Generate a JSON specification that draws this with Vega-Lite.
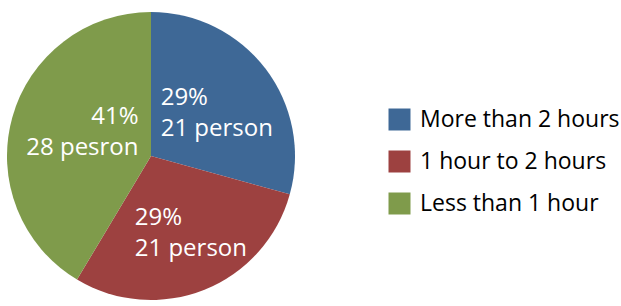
{
  "$schema": "https://vega.github.io/schema/vega-lite/v6.json",
  "width": 302,
  "height": 300,
  "padding": {"left": 0, "top": 6, "right": 0, "bottom": 0},
  "background": "white",
  "data": {
    "values": [
      {"category": "More than 2 hours", "pct": 29, "persons": 21, "idx": 1, "label": "29%\n21 person"},
      {"category": "1 hour to 2 hours", "pct": 29, "persons": 21, "idx": 2, "label": "29%\n21 person"},
      {"category": "Less than 1 hour", "pct": 41, "persons": 28, "idx": 3, "label": "41%\n28 pesron"}
    ]
  },
  "encoding": {
    "theta": {"field": "pct", "type": "quantitative", "stack": true},
    "order": {"field": "idx", "type": "quantitative"}
  },
  "layer": [
    {
      "mark": {"type": "arc", "outerRadius": 144},
      "encoding": {
        "color": {
          "field": "category",
          "type": "nominal",
          "scale": {
            "domain": ["More than 2 hours", "1 hour to 2 hours", "Less than 1 hour"],
            "range": ["#3e6896", "#9d4140", "#7f9b4b"]
          },
          "legend": {
            "title": null,
            "orient": "none",
            "legendX": 388,
            "legendY": 102,
            "padding": 0,
            "symbolType": "square",
            "symbolSize": 484,
            "symbolStrokeWidth": 0,
            "symbolOpacity": 1,
            "labelFont": "Open Sans",
            "labelFontSize": 23,
            "labelColor": "#000000",
            "labelOffset": 9,
            "labelLimit": 400,
            "rowPadding": 18
          }
        }
      }
    },
    {
      "mark": {"type": "text", "radius": 80, "align": "left", "baseline": "middle", "dx": -54, "dy": -10, "font": "Open Sans", "fontSize": 24, "lineHeight": 31, "color": "white", "lineBreak": "\n"},
      "encoding": {
        "text": {"condition": {"test": "datum.idx == 1", "field": "label"}, "value": ""}
      }
    },
    {
      "mark": {"type": "text", "radius": 80, "align": "left", "baseline": "middle", "dx": -46, "dy": -12, "font": "Open Sans", "fontSize": 24, "lineHeight": 31, "color": "white", "lineBreak": "\n"},
      "encoding": {
        "text": {"condition": {"test": "datum.idx == 2", "field": "label"}, "value": ""}
      }
    },
    {
      "mark": {"type": "text", "radius": 70, "align": "right", "baseline": "middle", "dx": 55, "dy": -20, "font": "Open Sans", "fontSize": 24, "lineHeight": 31, "color": "white", "lineBreak": "\n"},
      "encoding": {
        "text": {"condition": {"test": "datum.idx == 3", "field": "label"}, "value": ""}
      }
    }
  ],
  "config": {"view": {"stroke": null}}
}
